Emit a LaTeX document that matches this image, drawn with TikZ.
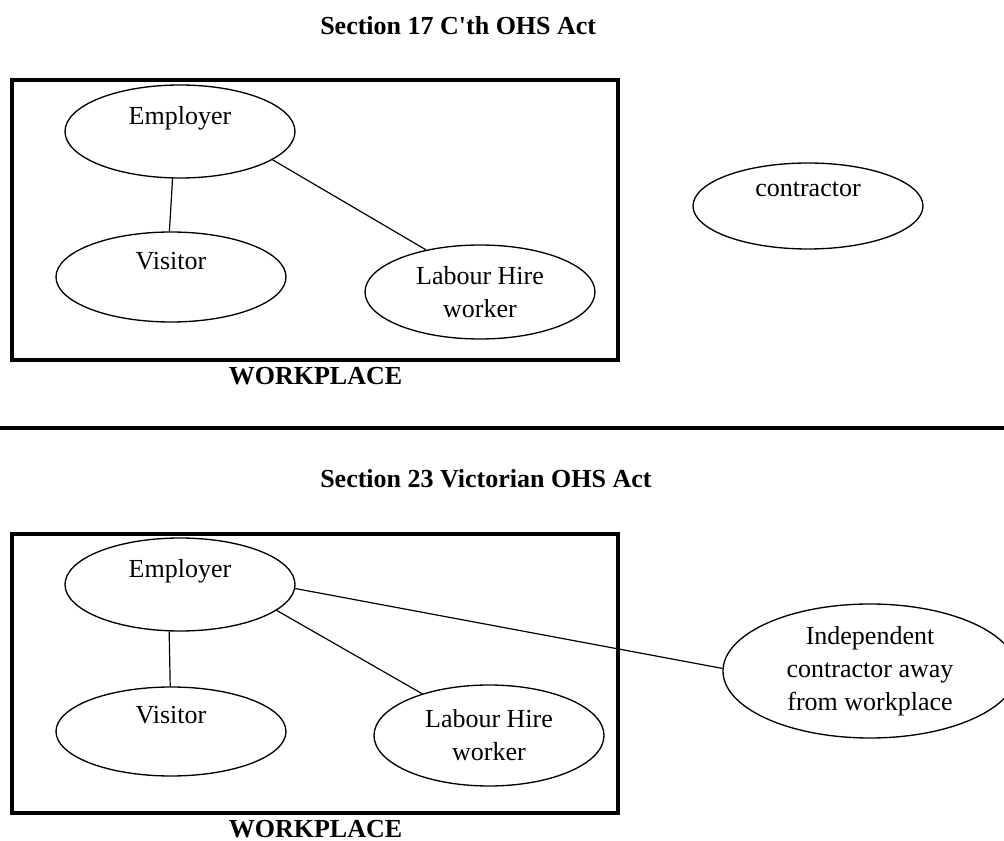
\documentclass[tikz,border=0pt]{standalone}
\usepackage{fontspec}
\setmainfont{Liberation Serif}
\usetikzlibrary{shapes.geometric}
\tikzset{party/.style=
   {ellipse,
    draw,
    line width=1pt,
    inner sep=0pt,
    align=center,
    minimum width=172.5pt,
    font=\fontsize{19.5pt}{24.75pt}\selectfont}}
\tikzset{zone/.style = {draw, line width=3pt}}
\tikzset{link/.style = {draw, line width=0.9pt}}
\tikzset{heading/.style = {anchor=base west, inner sep=0pt,
    font=\fontsize{19.5pt}{24.75pt}\selectfont\bfseries}}
\tikzset{place/.style = {anchor=base, inner sep=0pt,
    font=\fontsize{19.5pt}{24.75pt}\selectfont\bfseries}}

\begin{document}
\begin{tikzpicture}[x=0.75pt, y=-0.75pt]

    \useasboundingbox (0,0) rectangle (1004,841);
    \clip (0,0) rectangle (1004,841);

    % Section 17
    \node [heading] (title1) at (320,35) {Section 17 C\textquotesingle th OHS Act};
    \draw [zone] (12,80) rectangle (618,360);
    \node [place] (work1) at (315.5,385) {WORKPLACE};

    % Blocks
    \node [party, minimum height=69.75pt] (emp1) at (180,131.5) {Employer\\~};
    \node [party, minimum height=67.5pt] (vis1) at (171,277) {Visitor\\~};
    \node [party, minimum height=70.5pt] (lab1) at (480,292) {Labour Hire\\worker};
    \node [party, minimum height=64.5pt] (con1) at (808,206) {contractor\\~};

    % Draw edges
    \path [link] (emp1.-99) -- (vis1.92);
    \path [link] (emp1.-17) -- (lab1.142);

    % Divider
    \draw [line width=2.6pt] (0,428) -- (1004,428);

    % Section 23
    \node [heading] (title2) at (320,488) {Section 23 Victorian OHS Act};
    \draw [zone] (12,534) rectangle (618,813);
    \node [place] (work2) at (315.5,837) {WORKPLACE};

    % Blocks
    \node [party, minimum height=69.75pt] (emp2) at (180,584.5) {Employer\\~};
    \node [party, minimum height=66.75pt] (vis2) at (171,731.5) {Visitor\\~};
    \node [party, minimum height=75.75pt] (lab2) at (489,735.5) {Labour Hire\\worker};
    \node [party, minimum width=220.5pt, minimum height=100.5pt] (ind2) at (870,671)
        {Independent\\contractor away\\from workplace};

    % Draw edges
    \path [link] (emp2.-103) -- (vis2.91);
    \path [link] (emp2.-15) -- (lab2.148);
    \path [link] (emp2.-2) -- (ind2.179);

\end{tikzpicture}
\end{document}
